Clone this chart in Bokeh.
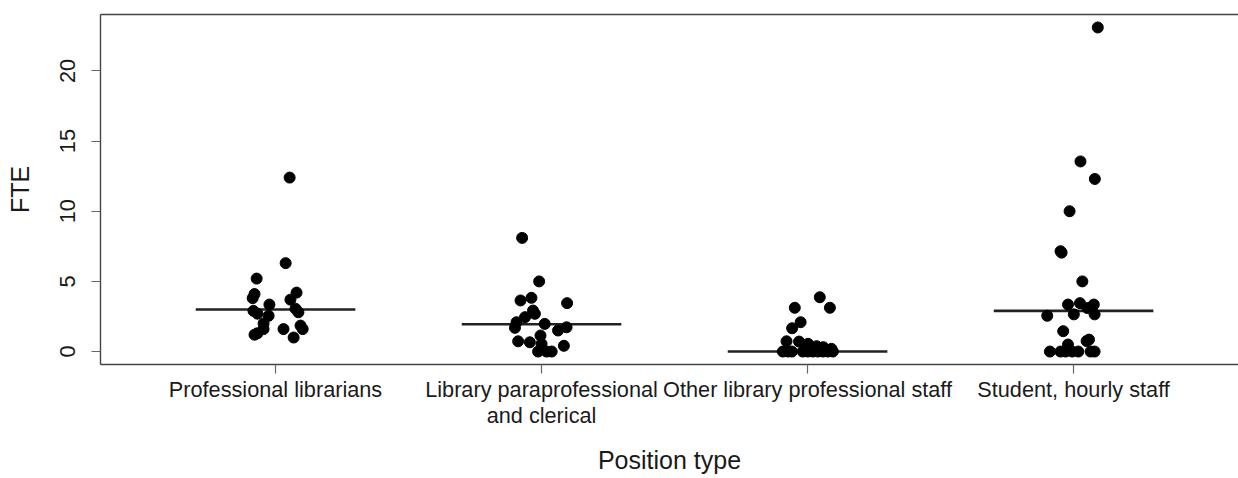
from bokeh.plotting import figure
from bokeh.models import Range1d, FixedTicker, LinearAxis, ColumnDataSource
from bokeh.embed import file_html
from bokeh.resources import INLINE

# ---- data ----
categories = ["Professional librarians",
              "Library paraprofessional\nand clerical",
              "Other library professional staff",
              "Student, hourly staff"]

prof_vals = [12.4, 6.3, 5.2, 4.1, 3.8, 4.2, 3.7, 3.35, 2.9, 2.7, 2.55, 2.8, 3.05,
             2.0, 1.6, 1.3, 1.2, 1.6, 1.85, 1.6, 1.0]
prof_jit = [0.053, 0.038, -0.071, -0.079, -0.086, 0.079, 0.056, -0.023, -0.083,
            -0.068, -0.026, 0.086, 0.075, -0.045, -0.045, -0.068, -0.079, 0.030,
            0.094, 0.102, 0.068]

para_vals = [8.1, 5.0, 3.64, 3.83, 3.45, 2.92, 2.69, 2.45, 2.09, 1.69, 1.97, 1.5,
             1.73, 0.73, 0.66, 1.14, 0.55, 0.41, 0.0, 0.0, 0.0]
para_jit = [-0.073, -0.009, -0.079, -0.038, 0.096, -0.032, -0.025, -0.062, -0.094,
            -0.100, 0.012, 0.062, 0.094, -0.088, -0.044, -0.004, 0.000, 0.084,
            -0.013, 0.019, 0.038]

other_vals = [3.87, 3.12, 3.12, 2.09, 1.66, 0.73, 0.71, 0.55, 0.38, 0.31, 0.19,
              0.0, 0.0, 0.0, 0.0, 0.0, 0.0, 0.0, 0.0, 0.0, 0.0]
other_jit = [0.046, 0.084, -0.048, -0.026, -0.058, -0.079, -0.032, 0.002, 0.034,
             0.059, 0.090, -0.093, -0.074, -0.059, -0.018, 0.001, 0.020, 0.039,
             0.058, 0.076, 0.095]

student_vals = [23.1, 13.55, 12.3, 10.0, 7.15, 7.05, 5.0, 3.35, 3.45, 3.35, 3.1,
                2.55, 2.65, 2.65, 1.45, 0.85, 0.75, 0.5, 0.0, 0.0, 0.0, 0.0, 0.0,
                0.0, 0.0]
student_jit = [0.091, 0.026, 0.080, -0.015, -0.049, -0.045, 0.033, -0.021, 0.024,
               0.076, 0.052, -0.099, 0.001, 0.079, -0.039, 0.058, 0.049, -0.021,
               -0.089, -0.049, -0.030, -0.005, 0.018, 0.064, 0.079]

medians = [3.0, 1.95, 0.0, 2.9]
y_ticks = [0, 5, 10, 15, 20]

# ---- build ----
FONT = "Liberation Sans"
TXT = "#1a1a1a"
LINE = "#444444"

groups = [(prof_vals, prof_jit), (para_vals, para_jit),
          (other_vals, other_jit), (student_vals, student_jit)]
xs, ys = [], []
for i, (vals, jit) in enumerate(groups, start=1):
    xs += [i + j for j in jit]
    ys += vals

p = figure(width=1238, height=478,
           x_range=Range1d(0.342, 4.62), y_range=Range1d(-0.924, 24.024),
           output_backend="svg", toolbar_location=None,
           min_border_left=100, min_border_right=0, min_border_top=14,
           min_border_bottom=114,
           x_axis_label="Position type", y_axis_label="FTE")
p.outline_line_color = None
p.xgrid.visible = False
p.ygrid.visible = False
p.background_fill_color = "white"
p.border_fill_color = "white"

xa = p.below[0]
ya = p.left[0]

# top line of the box
top = LinearAxis(ticker=FixedTicker(ticks=[]), major_label_text_font_size="0px",
                 axis_line_color=LINE, axis_line_width=1.4,
                 major_tick_line_color=None, minor_tick_line_color=None,
                 major_label_standoff=0)
p.add_layout(top, "above")

xa.ticker = FixedTicker(ticks=[1, 2, 3, 4])
xa.major_label_overrides = {i + 1: c for i, c in enumerate(categories)}
ya.ticker = FixedTicker(ticks=y_ticks)
ya.major_label_orientation = "vertical"

for ax in (xa, ya):
    ax.axis_line_color = LINE
    ax.axis_line_width = 1.4
    ax.major_tick_line_color = "#666666"
    ax.major_tick_line_width = 1.2
    ax.major_tick_in = 0
    ax.major_tick_out = 9
    ax.minor_tick_line_color = None
    ax.major_label_text_font = FONT
    ax.major_label_text_font_size = "21.7px"
    ax.major_label_text_color = TXT
    ax.axis_label_text_font = FONT
    ax.axis_label_text_font_size = "25px"
    ax.axis_label_text_font_style = "normal"
    ax.axis_label_text_color = TXT

xa.major_label_text_line_height = 1.05
xa.major_label_standoff = 3
xa.axis_label_standoff = 15
ya.major_label_standoff = 16
ya.axis_label_standoff = 24

p.segment(x0=[i + 1 - 0.3 for i in range(4)], x1=[i + 1 + 0.3 for i in range(4)],
          y0=medians, y1=medians, line_color="#222222", line_width=2.6)

src = ColumnDataSource(dict(x=xs, y=ys))
p.scatter("x", "y", source=src, size=11, fill_color="black", line_color="black")

open("out.html", "w").write(file_html(p, INLINE))
